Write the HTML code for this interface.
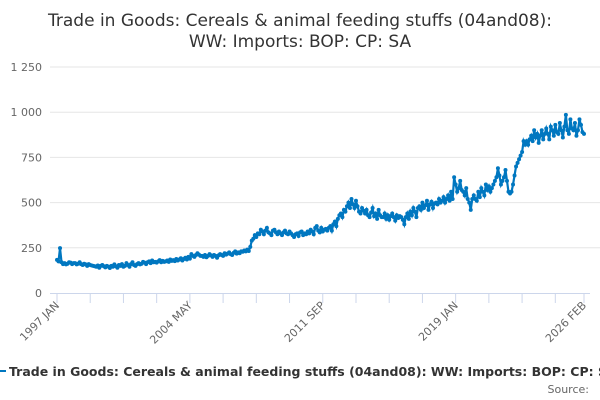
<!DOCTYPE html>
<html><head><meta charset="utf-8"><style>
body{margin:0;background:#fff;width:600px;height:400px;overflow:hidden;font-family:"Liberation Sans","DejaVu Sans",sans-serif}
svg{display:block}
</style></head><body>
<svg id="chart" width="600" height="400">
<text x="300" y="26" text-anchor="middle" font-size="17" fill="#333" font-family="DejaVu Sans, sans-serif">Trade in Goods: Cereals &amp; animal feeding stuffs (04and08):</text>
<text x="300" y="47" text-anchor="middle" font-size="17" fill="#333" font-family="DejaVu Sans, sans-serif">WW: Imports: BOP: CP: SA</text>
<g id="grid"></g><g id="xaxis"></g><g id="series"></g>
<line x1="0" y1="371" x2="6" y2="371" stroke="#0077c0" stroke-width="2"/>
<text x="9" y="376" font-size="12.5" font-weight="bold" fill="#333" font-family="DejaVu Sans, sans-serif">Trade in Goods: Cereals &amp; animal feeding stuffs (04and08): WW: Imports: BOP: CP: SA</text>
<text x="589" y="393" text-anchor="end" font-size="11" fill="#666" font-family="DejaVu Sans, sans-serif">Source:</text>
</svg>
<script>
const yTicks=[0,250,500,750,1000,1250];
const yTickLabels=["0","250","500","750","1 000","1 250"];
const xLabels=["1997 JAN","2004 MAY","2011 SEP","2019 JAN","2026 FEB"];
const xLabelIdx=[0,88,176,264,349];
const values=[
183,175,248,170,160,165,158,162,170,168,160,165,
165,158,162,170,160,155,162,158,150,160,155,152,
150,148,145,152,140,150,155,148,142,150,146,138,
150,145,158,148,140,155,150,160,145,150,165,155,
145,160,170,155,150,160,165,158,162,172,168,160,
170,175,165,180,170,172,168,175,182,170,178,172,
175,180,172,185,178,182,176,188,180,185,192,180,
188,195,185,200,190,215,205,200,210,220,212,205,
205,200,210,198,205,215,208,200,210,205,195,208,
215,210,205,220,212,218,225,215,210,222,230,218,
225,220,230,228,235,230,240,232,255,290,300,320,
310,330,325,350,340,325,345,360,335,330,320,345,
350,335,325,340,330,320,335,345,330,325,340,330,
320,310,325,330,315,335,340,320,330,325,340,330,
350,340,325,360,370,345,335,360,340,350,355,345,
360,370,345,380,395,370,410,430,440,420,460,450,
480,500,470,520,490,470,510,480,450,440,470,455,
440,460,430,420,445,470,425,440,410,460,430,420,
420,440,410,430,405,425,440,420,400,430,415,425,
420,405,380,420,440,410,450,430,470,450,420,470,
480,460,500,470,485,510,460,490,505,470,495,500,
490,520,500,510,530,500,520,540,510,560,520,640,
600,560,580,620,570,560,540,580,520,500,460,520,
540,520,510,560,530,580,560,540,600,570,590,560,
580,600,620,640,690,650,600,620,640,680,620,560,
550,560,600,650,700,720,740,760,780,840,820,840,
820,850,870,840,900,860,880,830,870,900,850,880,
910,880,850,920,900,870,930,890,880,940,900,860,
920,985,900,880,960,910,900,940,870,900,960,930,
890,880];
const NS="http://www.w3.org/2000/svg";
const X0=57,X1=584,Y0=293,Y1=67;
const n=values.length;
function xs(i){return X0+i*(X1-X0)/(n-1);}
function ys(v){return Y0-v*(Y0-Y1)/1250;}
function mk(t,a,p){const e=document.createElementNS(NS,t);for(const k in a)e.setAttribute(k,a[k]);p.appendChild(e);return e;}
const grid=document.getElementById('grid');
yTicks.forEach((v,i)=>{
  if(v>0){const l=mk('line',{x1:50,x2:600,y1:ys(v),y2:ys(v),stroke:'#e6e6e6'},grid);
  
  }
  const t=mk('text',{x:42,y:ys(v)+4,'text-anchor':'end','font-size':11,fill:'#666','font-family':'DejaVu Sans, sans-serif'},grid);
  t.textContent=yTickLabels[i];
  
  
});
const xa=document.getElementById('xaxis');
const al=mk('line',{x1:50,x2:590,y1:Y0+0.5,y2:Y0+0.5,stroke:'#ccd6eb'},xa);


for(let m=0;m<n;m+=22){const tk=mk('line',{x1:xs(m),x2:xs(m),y1:Y0,y2:Y0+10,stroke:'#ccd6eb'},xa);

}
const tk2=mk('line',{x1:xs(n-1),x2:xs(n-1),y1:Y0,y2:Y0+10,stroke:'#ccd6eb'},xa);


xLabels.forEach((s,i)=>{const x=xs(xLabelIdx[i])+3,y=Y0+13;
  const t=mk('text',{x:x,y:y,'text-anchor':'end','font-size':11,fill:'#666','font-family':'DejaVu Sans, sans-serif',transform:`rotate(-45 ${x} ${y})`},xa);
  t.textContent=s;
  
  });
const sg=document.getElementById('series');
const path=mk('path',{d:values.map((v,i)=>(i?'L':'M')+xs(i).toFixed(2)+','+ys(v).toFixed(2)).join(''),fill:'none',stroke:'#0077c0','stroke-width':2.2},sg);


values.forEach((v,i)=>{const c=mk('circle',{cx:xs(i),cy:ys(v),r:2,fill:'#0077c0'},sg);

});
</script>
</body></html>
